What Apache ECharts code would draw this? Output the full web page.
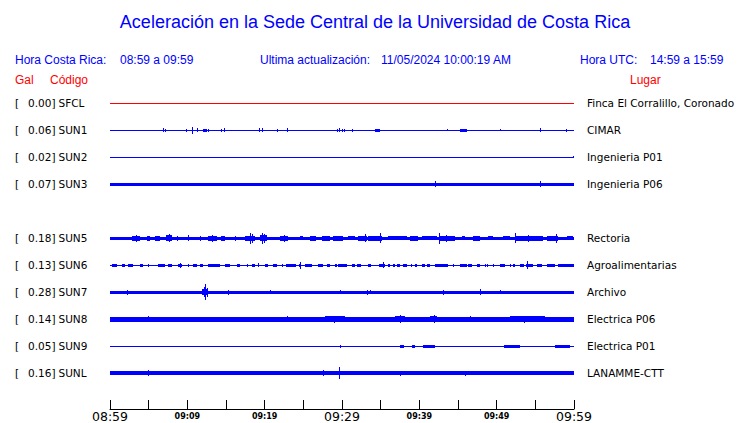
<!DOCTYPE html>
<html>
<head>
<meta charset="utf-8">
<script src="https://cdn.jsdelivr.net/npm/echarts@6/dist/echarts.min.js"></script>
<style>html,body{margin:0;padding:0;background:#fff}#c{width:740px;height:423px}</style>
</head>
<body>
<div id="c"></div>
<script>
// ---------- data ----------
const titleText = 'Aceleración en la Sede Central de la Universidad de Costa Rica';
const localLabel = 'Hora Costa Rica:';
const localRange = '08:59 a 09:59';
const updateLabel = 'Ultima actualización:';
const updateValue = '11/05/2024 10:00:19 AM';
const utcLabel = 'Hora UTC:';
const utcRange = '14:59 a 15:59';
const headGal = 'Gal';
const headCode = 'Código';
const headPlace = 'Lugar';

const codes  = ['SFCL','SUN1','SUN2','SUN3','SUN5','SUN6','SUN7','SUN8','SUN9','SUNL'];
const gal    = ['0.00','0.06','0.02','0.07','0.18','0.13','0.28','0.14','0.05','0.16'];
const places = ['Finca El Corralillo, Coronado','CIMAR','Ingenieria P01','Ingenieria P06','Rectoria',
                'Agroalimentarias','Archivo','Electrica P06','Electrica P01','LANAMME-CTT'];
const rows   = [0,1,2,3,5,6,7,8,9,10];     // trace slot (slot 4 = SUN4, no data)
const tickLabels = ['08:59','','09:09','','09:19','','09:29','','09:39','','09:49','','09:59'];

// background (noise) half-amplitude of each trace, in relative units (27 units = trace spacing)
const baseAmp = [0.5, 0.5, 0.6, 1.6, 1.7, 0.6, 1.6, 2.4, 0.5, 1.8];

// bursts: [start minute, end minute, half-amplitude]  (minutes after 08:59)
const evSFCL = [];
const evSUN1 = [[6.8,6.8,2],[7.1,7.1,1.5],[9.8,9.8,1.5],[10.6,10.6,3.5],[11.3,11.3,2],[12.0,12.5,1.5],[12.7,12.7,1.5],
  [14.4,14.4,1.5],[14.7,14.9,2],[19.3,19.3,2],[19.7,19.7,2],[21.6,21.6,1.5],[22.9,22.9,2],[29.3,29.3,1.5],
  [29.6,29.6,2],[30.0,30.0,1.5],[30.3,30.3,1.5],[31.3,31.3,1.5],[34.3,34.9,1.5],[43.6,43.6,1],[45.3,46.2,1.5],
  [50.4,50.4,1],[55.6,55.6,2],[59.0,59.0,1.5]];
const evSUN2 = [[59.9,59.9,1.2]];
const evSUN3 = [[42.0,42.0,3],[55.6,55.6,3]];
const evSUN5 = [[2.8,3.9,2.6],[3.3,3.3,3.7],[4.75,5.2,2.4],[5.8,6.5,2.4],[7.3,8.0,2.8],[7.6,7.6,4],[8.6,8.6,2.5],
  [10.1,10.1,3],[11.6,11.6,2.5],[12.7,13.8,2.5],[13.2,13.2,3.5],[14.4,14.9,2.4],[16.2,16.2,2.5],[17.5,18.75,2.7],
  [18.1,18.1,5.3],[18.4,18.4,4.5],[19.4,20.3,2.8],[19.6,19.6,5.5],[19.9,19.9,4.5],
  [22.0,23.05,2.5],[22.5,22.5,3.5],[24.6,25.0,2.2],[25.9,26.7,2.4],[27.4,28.45,2.4],[28.8,30.1,2.4],[30.8,31.7,2.2],
  [32.1,33.2,2.4],[33.0,33.0,4],[33.4,35.2,2.4],[34.9,34.9,5],[36.0,38.4,2.0],[38.8,39.8,2.4],[40.35,42.3,2.1],
  [42.6,42.6,5.5],[42.7,44.6,2.4],[43.5,43.5,3.5],[45.5,45.9,2.0],[46.9,47.85,2.4],[48.9,49.5,2.2],[50.8,51.7,2.2],
  [52.4,56.0,2.5],[52.4,52.4,5],[54.0,54.0,3.5],[56.5,57.9,2.4],[57.7,57.7,4.5],[59.1,59.9,2.2]];
const evSUN6 = [[0.2,0.9,1.4],[1.5,1.9,1.4],[2.3,3.0,1.4],[3.9,4.3,1.4],[4.9,4.9,1.4],[6.2,7.1,1.4],[7.5,8.0,1.4],
  [8.8,9.3,1.4],[9.05,9.05,2.5],[10.1,10.1,1.4],[10.7,11.2,1.4],[11.6,12.0,1.4],[12.7,14.2,1.4],[14.9,15.5,1.4],
  [16.4,16.8,1.4],[17.7,17.7,1.4],[18.3,18.75,1.4],[19.2,19.2,2],[20.0,20.4,1.4],[21.1,21.6,1.4],[22.2,22.4,1.4],
  [22.8,24.1,1.4],[24.4,24.7,1.4],[24.6,24.6,3.5],[25.2,26.1,1.4],[26.9,27.5,1.4],[28.0,28.45,1.4],[29.1,29.3,1.4],
  [29.5,30.6,1.4],[31.3,31.7,1.4],[31.9,32.4,1.4],[33.4,33.7,1.4],[34.8,35.6,1.4],[35.25,35.25,3],[36.0,36.2,1.4],
  [36.6,36.85,1.4],[37.1,37.5,1.4],[37.9,38.4,1.4],[38.9,39.1,1.4],[39.4,39.7,1.4],[40.3,40.7,1.4],[41.0,41.4,1.4],
  [42.0,43.7,1.4],[44.4,44.4,1.4],[45.3,46.1,1.4],[46.3,46.8,1.4],[47.4,47.85,1.4],[48.5,48.5,1.4],[48.75,48.75,1.4],
  [49.5,49.5,1.4],[50.4,51.1,1.4],[51.7,51.7,1.4],[52.1,52.4,1.4],[53.0,53.5,1.4],[53.8,54.65,1.4],[53.96,53.96,4],
  [55.2,55.8,1.4],[56.5,57.5,1.4],[57.9,60.0,1.4]];
const evSUN7 = [[2.2,2.2,2.5],[11.9,12.7,3],[12.3,12.3,8],[12.1,12.1,5],[12.5,12.5,4.5],[15.3,15.3,2.5],[20.7,20.7,2],
  [29.7,29.7,2],[33.2,33.2,2.5],[33.6,33.6,2],[43.0,43.0,2.5],[47.85,47.85,3],[50.4,50.4,2]];
const evSUN8 = [[4.9,4.9,3],[22.9,22.9,3],[27.8,30.4,2.8],[29.0,29.0,3.5],[36.9,38.1,3],[37.5,37.5,4],
  [41.4,42.3,3],[41.9,41.9,4],[46.6,46.6,3],[51.7,56.3,2.8],[53.5,53.5,3.5]];
const evSUN9 = [[29.7,29.7,1.5],[37.5,38.0,1.5],[39.0,39.5,1.5],[40.5,42.0,1.5],[51.0,53.0,1.5],[57.5,59.5,1.5]];
const evSUNL = [[4.9,4.9,3],[27.5,27.5,3],[29.6,29.6,6],[37.5,37.5,2.5],[45.9,45.9,2.5]];
const events = [evSFCL, evSUN1, evSUN2, evSUN3, evSUN5, evSUN6, evSUN7, evSUN8, evSUN9, evSUNL];
const traceColors = ['#ff0000','#0000ff','#0000ff','#0000ff','#0000ff','#0000ff','#0000ff','#0000ff','#0000ff','#0000ff'];

// ---------- chart ----------
const AMP_UNIT = 1 / 27;
const chart = echarts.init(document.getElementById('c'), null, {renderer: 'svg'});

function renderItem(params, api) {
  const t0 = api.value(0), t1 = api.value(1), row = api.value(2), a = api.value(3);
  const top = api.coord([t0, -row + a * AMP_UNIT]);
  const bot = api.coord([t0, -row - a * AMP_UNIT]);
  const right = api.coord([t1, -row]);
  let x = Math.round(top[0]);
  let w = Math.max(1, Math.round(right[0]) - x);
  let h = Math.max(1, Math.round(bot[1] - top[1]));
  let y = Math.round((top[1] + bot[1]) / 2 - h / 2);
  return {type: 'rect', shape: {x: x, y: y, width: w, height: h},
          style: {fill: api.visual('color')}, silent: true};
}

const series = codes.map((c, i) => {
  const r = rows[i];
  const data = [[0, 60, r, baseAmp[i]]].concat(events[i].map(e => [e[0], e[1], r, e[2]]));
  return {type: 'custom', name: c, renderItem: renderItem, data: data,
          itemStyle: {color: traceColors[i]}, encode: {x: [0, 1], y: 2}, clip: false, animation: false};
});

function rowIndex(v) { return rows.indexOf(-Math.round(v)); }

const headStyle = (x, y, text, color, size, align) => ({
  type: 'text', x: x, y: y,
  style: {text: text, fill: color, font: size + 'px "Liberation Sans", Arial, sans-serif',
          textAlign: align || 'left', textVerticalAlign: 'middle'}
});

const LBL = 10.5;
chart.setOption({
  animation: false,
  backgroundColor: '#ffffff',
  grid: {left: 110, right: 166, top: 76, bottom: 23, containLabel: false, outerBoundsMode: 'none'},
  xAxis: {
    type: 'value', min: 0, max: 60, interval: 5, offset: 9,
    axisLine: {show: true, onZero: false, lineStyle: {color: '#000', width: 1}},
    axisTick: {show: true, inside: true, length: 9, lineStyle: {color: '#000'}},
    splitLine: {show: false},
    axisLabel: {
      margin: 1, showMinLabel: true, showMaxLabel: true, hideOverlap: false,
      formatter: v => {
        const k = Math.round(v / 5);
        const s = tickLabels[k] || '';
        if (!s) return '';
        return (k % 6 === 0) ? '{big|' + s + '}' : '{small|' + s + '}';
      },
      rich: {
        big: {fontFamily: 'DejaVu Sans', fontSize: 12.5, lineHeight: 12, color: '#000', verticalAlign: 'top'},
        small: {fontFamily: 'DejaVu Sans', fontSize: 8, lineHeight: 10, fontWeight: 'bold', color: '#000',
                verticalAlign: 'top', padding: [2, 0, 0, 0]}
      }
    }
  },
  yAxis: [{
    type: 'value', min: -11, max: 1, interval: 1, position: 'left',
    axisLine: {show: false}, axisTick: {show: false}, splitLine: {show: false},
    axisLabel: {
      margin: 95, align: 'left', hideOverlap: false,
      formatter: v => {
        const i = rowIndex(v);
        if (i < 0 || v > 0) return '';
        return '{b|[}{v|' + gal[i] + ']}{c|' + codes[i] + '}';
      },
      rich: {
        b: {fontFamily: 'DejaVu Sans', fontSize: LBL, color: '#000', width: 13},
        v: {fontFamily: 'DejaVu Sans', fontSize: LBL, color: '#000', width: 27.5, align: 'right'},
        c: {fontFamily: 'DejaVu Sans', fontSize: LBL, color: '#000', padding: [0,0,0,3]}
      }
    }
  }, {
    type: 'value', min: -11, max: 1, interval: 1, position: 'right',
    axisLine: {show: false}, axisTick: {show: false}, splitLine: {show: false},
    axisLabel: {
      margin: 13, align: 'left', fontFamily: 'DejaVu Sans', fontSize: LBL, color: '#000', hideOverlap: false,
      formatter: v => {
        const i = rowIndex(v);
        if (i < 0 || v > 0) return '';
        return places[i];
      }
    }
  }],
  series: series,
  graphic: [
    {type: 'text', x: 375, y: 22, style: {text: titleText, fill: '#0000ff',
      font: '18px "Liberation Sans", Arial, sans-serif', textAlign: 'center', textVerticalAlign: 'middle'}},
    headStyle(15, 60, localLabel, '#0000ff', 12),
    headStyle(120, 60, localRange, '#0000ff', 12),
    headStyle(260, 60, updateLabel, '#0000ff', 12),
    headStyle(381, 60, updateValue, '#0000ff', 12),
    headStyle(580, 60, utcLabel, '#0000ff', 12),
    headStyle(650, 60, utcRange, '#0000ff', 12),
    headStyle(15, 80, headGal, '#ff0000', 12),
    headStyle(50, 80, headCode, '#ff0000', 12),
    headStyle(630, 80, headPlace, '#ff0000', 12)
  ]
});
</script>
</body>
</html>
